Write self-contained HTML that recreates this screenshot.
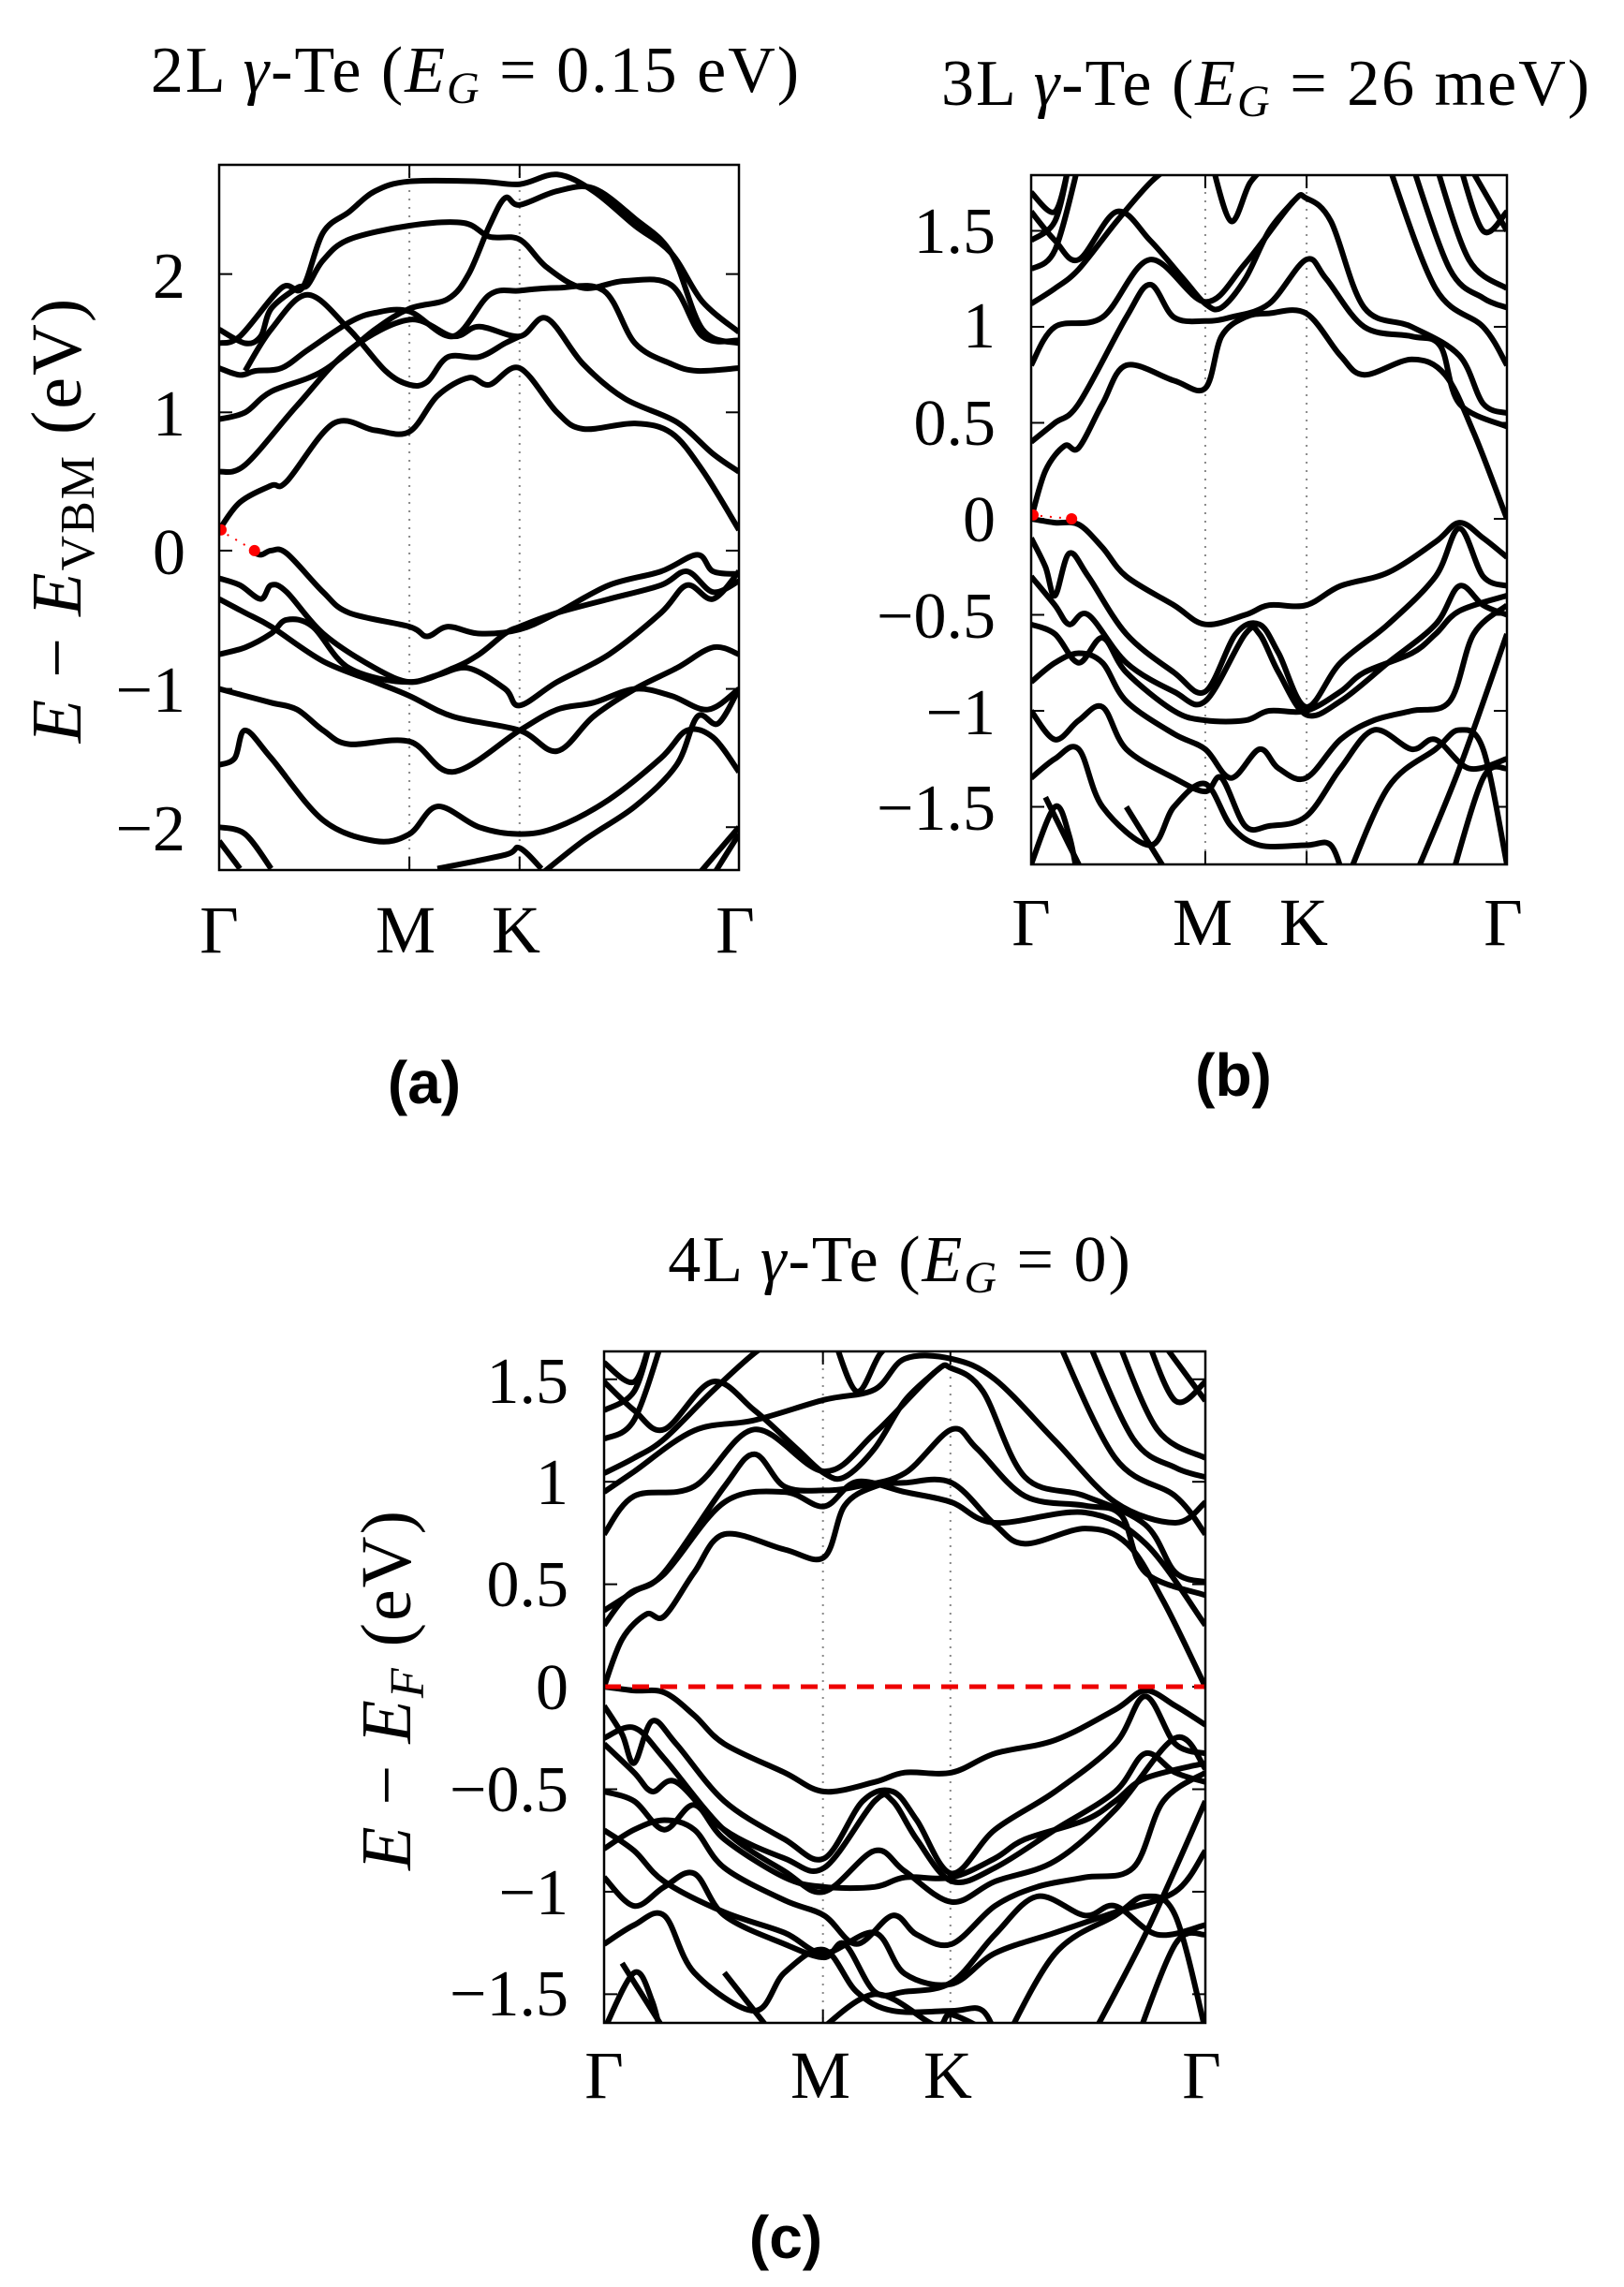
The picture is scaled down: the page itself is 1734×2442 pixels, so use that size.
<!DOCTYPE html>
<html><head><meta charset="utf-8"><style>
html,body{margin:0;padding:0;background:#fff;}
svg{display:block}
text{font-family:"Liberation Serif",serif;fill:#000}
.sub{font-family:"Liberation Sans","DejaVu Sans",sans-serif;font-weight:bold}
</style></head><body>
<svg id="s" width="1734" height="2442" viewBox="0 0 1734 2442" xmlns="http://www.w3.org/2000/svg">
<defs>
<clipPath id="ca"><rect x="234" y="176" width="555" height="753"/></clipPath>
<clipPath id="cb"><rect x="1101" y="187" width="508" height="736"/></clipPath>
<clipPath id="cc"><rect x="645" y="1443" width="642" height="717"/></clipPath>
</defs>
<!-- titles -->
<text x="508" y="98" font-size="70" text-anchor="middle" letter-spacing="2">2L <tspan font-style="italic">γ</tspan>-Te (<tspan font-style="italic">E</tspan><tspan font-style="italic" font-size="48" dy="12">G</tspan><tspan dy="-12"> = 0.15 eV)</tspan></text>
<text x="1352" y="112" font-size="70" text-anchor="middle" letter-spacing="2">3L <tspan font-style="italic">γ</tspan>-Te (<tspan font-style="italic">E</tspan><tspan font-style="italic" font-size="48" dy="12">G</tspan><tspan dy="-12"> = 26 meV)</tspan></text>
<text x="961" y="1368" font-size="70" text-anchor="middle" letter-spacing="2">4L <tspan font-style="italic">γ</tspan>-Te (<tspan font-style="italic">E</tspan><tspan font-style="italic" font-size="48" dy="12">G</tspan><tspan dy="-12"> = 0)</tspan></text>
<!-- y labels -->
<text transform="translate(86,555) rotate(-90)" font-size="76" text-anchor="middle" letter-spacing="2"><tspan font-style="italic">E</tspan> − <tspan font-style="italic">E</tspan><tspan font-size="52" dy="14">VBM</tspan><tspan dy="-14"> (eV)</tspan></text>
<text transform="translate(438,1804) rotate(-90)" font-size="76" text-anchor="middle" letter-spacing="2"><tspan font-style="italic">E</tspan> − <tspan font-style="italic">E</tspan><tspan font-style="italic" font-size="52" dy="14">F</tspan><tspan dy="-14"> (eV)</tspan></text>
<!-- sub labels -->
<text class="sub" x="453" y="1178" font-size="64" text-anchor="middle">(a)</text>
<text class="sub" x="1317" y="1170" font-size="64" text-anchor="middle">(b)</text>
<text class="sub" x="839" y="2411" font-size="64" text-anchor="middle">(c)</text>
<g id="ga"></g><g id="gb"></g><g id="gc"></g>
<!-- tick labels -->
<g font-size="70" text-anchor="end">
<text x="198" y="318">2</text><text x="198" y="465">1</text><text x="198" y="613">0</text><text x="198" y="760">−1</text><text x="198" y="908">−2</text>
<text x="1063" y="270">1.5</text><text x="1063" y="371">1</text><text x="1063" y="475">0.5</text><text x="1063" y="578">0</text><text x="1063" y="681">−0.5</text><text x="1063" y="784">−1</text><text x="1063" y="886">−1.5</text>
<text x="607" y="1498">1.5</text><text x="607" y="1606">1</text><text x="607" y="1715">0.5</text><text x="607" y="1825">0</text><text x="607" y="1934">−0.5</text><text x="607" y="2044">−1</text><text x="607" y="2152">−1.5</text>
</g>
<g font-size="72" text-anchor="middle">
<text x="234" y="1017">Γ</text><text x="433" y="1017">M</text><text x="551" y="1017">K</text><text x="785" y="1017">Γ</text>
<text x="1101" y="1009">Γ</text><text x="1284" y="1009">M</text><text x="1392" y="1009">K</text><text x="1605" y="1009">Γ</text>
<text x="645" y="2240">Γ</text><text x="876" y="2240">M</text><text x="1012" y="2240">K</text><text x="1283" y="2240">Γ</text>
</g>
</svg>
<script>
function cr(pts){var d="M"+pts[0][0]+","+pts[0][1];for(var i=0;i<pts.length-1;i++){var p0=pts[i-1]||pts[i],p1=pts[i],p2=pts[i+1],p3=pts[i+2]||p2;
var c1x=p1[0]+(p2[0]-p0[0])/6,c1y=p1[1]+(p2[1]-p0[1])/6,c2x=p2[0]-(p3[0]-p1[0])/6,c2y=p2[1]-(p3[1]-p1[1])/6;
d+=" C"+c1x.toFixed(1)+","+c1y.toFixed(1)+" "+c2x.toFixed(1)+","+c2y.toFixed(1)+" "+p2[0].toFixed(1)+","+p2[1].toFixed(1);}return d;}
var NS="http://www.w3.org/2000/svg";
function el(g,t,a){var e=document.createElementNS(NS,t);for(var k in a)e.setAttribute(k,a[k]);g.appendChild(e);return e;}
function panel(id,clip,x0,x1,y0,y1,emax,emin,M,K,ticks,bands,red){
var g=document.getElementById(id);var W=x1-x0,H=y1-y0;
function X(f){return x0+f*W}function Y(e){return y0+(emax-e)/(emax-emin)*H}
[M,K].forEach(function(f){el(g,"line",{x1:X(f),x2:X(f),y1:y0,y2:y1,stroke:"#888","stroke-width":2,"stroke-dasharray":"2,7"});
el(g,"line",{x1:X(f),x2:X(f),y1:y0,y2:y0+14,stroke:"#000","stroke-width":2});el(g,"line",{x1:X(f),x2:X(f),y1:y1,y2:y1-14,stroke:"#000","stroke-width":2});});
ticks.forEach(function(t){el(g,"line",{x1:x0,x2:x0+14,y1:Y(t),y2:Y(t),stroke:"#000","stroke-width":2});el(g,"line",{x1:x1,x2:x1-14,y1:Y(t),y2:Y(t),stroke:"#000","stroke-width":2});});
var cg=el(g,"g",{"clip-path":"url(#"+clip+")"});
bands.forEach(function(b){el(cg,"path",{d:cr(b.map(function(p){return[X(p[0]),Y(p[1])]})),fill:"none",stroke:"#000","stroke-width":6,"stroke-linejoin":"round"});});
if(red){red(cg,X,Y);}
el(g,"rect",{x:x0,y:y0,width:W,height:H,fill:"none",stroke:"#000","stroke-width":2.5});
}
var A=[
[[0,.15],[.04,.35],[.1,.47],[.13,.5],[.22,.92],[.3,.87],[.366,.86],[.42,1.12],[.48,1.25],[.52,1.2],[.578,1.32],[.65,1.0],[.7,.88],[.8,.92],[.87,.85],[.93,.58],[1,.15]],
[[0,.57],[.05,.62],[.15,1.05],[.25,1.45],[.366,1.67],[.45,1.55],[.5,1.62],[.578,1.55],[.63,1.68],[.7,1.35],[.78,1.1],[.88,.93],[.95,.7],[1,.57]],
[[0,.95],[.05,1.0],[.1,1.15],[.2,1.3],[.3,1.6],[.366,1.75],[.44,1.82],[.48,2.0],[.52,2.35],[.55,2.55],[.578,2.5],[.65,2.6],[.72,2.62],[.8,2.4],[.87,2.15],[.93,1.6],[1,1.5]],
[[0,1.32],[.04,1.27],[.07,1.3],[.12,1.32],[.17,1.45],[.25,1.65],[.3,1.72],[.366,1.73],[.45,1.55],[.52,1.85],[.578,1.88],[.65,1.9],[.74,1.88],[.8,1.5],[.87,1.35],[.92,1.3],[1,1.32]],
[[0,1.6],[.05,1.5],[.08,1.55],[.1,1.75],[.15,1.9],[.17,1.92],[.2,2.1],[.25,2.25],[.366,2.35],[.47,2.37],[.52,2.27],[.578,2.25],[.63,2.05],[.7,1.9],[.78,1.95],[.87,1.92],[.93,1.55],[1,1.52]],
[[0,1.5],[.04,1.55],[.12,1.9],[.16,1.9],[.2,2.3],[.25,2.45],[.3,2.6],[.366,2.67],[.5,2.67],[.578,2.65],[.65,2.72],[.72,2.6],[.8,2.35],[.87,2.15],[.93,1.8],[1,1.58]],
[[.05,1.3],[.1,1.6],[.17,1.85],[.25,1.6],[.32,1.3],[.366,1.2],[.4,1.22],[.44,1.4],[.5,1.4],[.55,1.5],[.578,1.55]],
[[.06,0],[.08,-.03],[.1,0],[.13,-.02],[.2,-.3],[.25,-.45],[.366,-.55],[.4,-.62],[.44,-.55],[.5,-.6],[.578,-.57],[.65,-.45],[.75,-.25],[.85,-.15],[.92,-.03],[.95,-.15],[1,-.17]],
[[0,-.2],[.04,-.25],[.08,-.35],[.1,-.25],[.13,-.3],[.2,-.6],[.3,-.85],[.366,-.95],[.42,-.9],[.48,-.85],[.55,-1.0],[.578,-1.12],[.65,-.95],[.75,-.75],[.85,-.45],[.9,-.25],[.95,-.35],[1,-.15]],
[[0,-.35],[.05,-.45],[.1,-.55],[.2,-.8],[.3,-.95],[.366,-1.05],[.45,-1.2],[.578,-1.3],[.65,-1.45],[.72,-1.2],[.8,-1.0],[.88,-.85],[.95,-.7],[1,-.75]],
[[0,-.75],[.05,-.7],[.1,-.6],[.13,-.5],[.18,-.55],[.25,-.85],[.366,-.95],[.45,-.85],[.5,-.75],[.55,-.6],[.578,-.55],[.65,-.45],[.75,-.35],[.85,-.25],[.9,-.15],[.95,-.3],[1,-.22]],
[[0,-1.0],[.05,-1.05],[.1,-1.1],[.15,-1.15],[.2,-1.3],[.25,-1.4],[.366,-1.38],[.45,-1.6],[.578,-1.3],[.65,-1.15],[.72,-1.1],[.8,-1.0],[.87,-1.05],[.94,-1.15],[1,-1.0]],
[[0,-1.55],[.03,-1.5],[.05,-1.3],[.1,-1.5],[.2,-1.95],[.3,-2.1],[.366,-2.05],[.42,-1.85],[.5,-2.0],[.578,-2.05],[.65,-2.0],[.75,-1.8],[.85,-1.5],[.9,-1.3],[.95,-1.35],[1,-1.6]],
[[.6,-2.4],[.7,-2.1],[.8,-1.85],[.88,-1.55],[.92,-1.2],[.96,-1.25],[1,-1.0]],
[[0,-2.0],[.05,-2.05],[.1,-2.3]],[[0,-2.1],[.04,-2.3]],[[.95,-2.35],[1,-2.05]],[[.92,-2.35],[1,-2.0]],
[[.42,-2.3],[.55,-2.2],[.578,-2.15],[.62,-2.3]]];
panel("ga","ca",234,789,176,929,2.79,-2.31,.366,.578,[2,1,0,-1,-2],A,function(g,X,Y){
el(g,"line",{x1:X(0),y1:Y(.15),x2:X(.068),y2:Y(0),stroke:"red","stroke-width":2,"stroke-dasharray":"2,8"});
el(g,"circle",{cx:X(0)+2,cy:Y(.15),r:6,fill:"red"});el(g,"circle",{cx:X(.068),cy:Y(0),r:6,fill:"red"});});
var B=[
[[0,0],[.03,.25],[.07,.38],[.1,.37],[.15,.6],[.2,.8],[.3,.72],[.366,.68],[.4,.95],[.45,1.05],[.5,1.07],[.578,1.07],[.65,.85],[.7,.75],[.8,.83],[.87,.75],[.93,.45],[1,0]],
[[0,.4],[.05,.5],[.1,.6],[.2,1.05],[.25,1.22],[.3,1.05],[.366,1.03],[.42,1.05],[.5,1.12],[.578,1.35],[.62,1.25],[.7,1.0],[.8,.95],[.86,.9],[.9,.6],[1,.48]],
[[0,.8],[.05,1.0],[.15,1.05],[.25,1.35],[.366,1.13],[.45,1.33],[.55,1.65],[.578,1.67],[.63,1.55],[.7,1.1],[.8,1.0],[.9,.85],[.95,.6],[1,.55]],
[[0,1.12],[.05,1.2],[.1,1.3],[.18,1.55],[.25,1.75],[.3,1.85]],
[[0,1.6],[.05,1.45],[.1,1.35],[.18,1.6],[.25,1.45],[.32,1.25],[.366,1.12],[.4,1.1],[.45,1.25],[.5,1.5],[.55,1.65]],
[[.38,1.85],[.42,1.55],[.46,1.75],[.5,1.85]],
[[.75,1.85],[.85,1.2],[.95,1.0],[1,.8]],[[.8,1.85],[.88,1.3],[.95,1.15],[1,1.1]],[[.85,1.85],[.92,1.35],[1,1.2]],[[.9,1.85],[.95,1.5],[1,1.6]],[[.93,1.8],[1,1.5]],
[[0,1.3],[.05,1.4],[.1,1.85]],[[0,1.45],[.05,1.55],[.08,1.85]],[[0,1.7],[.05,1.6],[.08,1.85]],
[[0,0],[.05,-.02],[.1,-.03],[.15,-.15],[.2,-.3],[.3,-.45],[.366,-.55],[.45,-.5],[.5,-.45],[.578,-.45],[.65,-.35],[.75,-.28],[.85,-.12],[.9,-.02],[.95,-.1],[1,-.2]],
[[0,-.1],[.03,-.25],[.05,-.4],[.08,-.18],[.12,-.3],[.2,-.6],[.3,-.8],[.366,-.9],[.43,-.6],[.48,-.55],[.52,-.7],[.578,-.98],[.65,-.75],[.75,-.55],[.85,-.3],[.9,-.05],[.95,-.3],[1,-.35]],
[[0,-.3],[.05,-.45],[.08,-.55],[.12,-.5],[.2,-.75],[.3,-.9],[.366,-.95],[.45,-.6],[.48,-.6],[.52,-.8],[.578,-1.02],[.65,-.95],[.75,-.75],[.85,-.55],[.9,-.35],[.95,-.45],[1,-.5]],
[[0,-.55],[.05,-.6],[.1,-.75],[.15,-.62],[.2,-.8],[.3,-1.0],[.366,-1.05],[.45,-1.05],[.5,-1.0],[.578,-1.0],[.65,-.9],[.7,-.8],[.8,-.7],[.85,-.6],[.9,-.48],[1,-.4]],
[[0,-.85],[.05,-.75],[.1,-.7],[.15,-.75],[.2,-.95],[.3,-1.12],[.366,-1.2],[.42,-1.35],[.48,-1.2],[.52,-1.3],[.578,-1.35],[.65,-1.15],[.72,-1.05],[.8,-1.0],[.88,-.95],[.93,-.6],[1,-.45]],
[[0,-1.0],[.05,-1.15],[.1,-1.05],[.15,-.98],[.2,-1.2],[.3,-1.35],[.366,-1.42],[.4,-1.35],[.45,-1.6],[.5,-1.6],[.578,-1.55],[.65,-1.3],[.72,-1.1],[.8,-1.2],[.85,-1.15],[.92,-1.3],[1,-1.25]],
[[0,-1.35],[.05,-1.25],[.1,-1.2],[.15,-1.5],[.25,-1.7],[.3,-1.5],[.366,-1.38],[.42,-1.6],[.48,-1.7],[.578,-1.7],[.63,-1.7],[.66,-1.9]],
[[.03,-1.45],[.08,-1.7],[.12,-1.9]],[[0,-1.8],[.05,-1.5],[.08,-1.65],[.1,-1.9]],[[.66,-1.9],[.75,-1.4],[.85,-1.2],[.9,-1.1],[.95,-1.2],[1,-1.8]],
[[.8,-1.9],[.9,-1.3],[1,-.6]],[[.88,-1.9],[.95,-1.35],[1,-1.3]],[[.2,-1.5],[.3,-1.9]]];
panel("gb","cb",1101,1609,187,923,1.79,-1.8,.366,.579,[1.5,1,.5,0,-.5,-1,-1.5],B,function(g,X,Y){
el(g,"line",{x1:X(0),y1:Y(.02),x2:X(.085),y2:Y(0),stroke:"red","stroke-width":2,"stroke-dasharray":"2,8"});
el(g,"circle",{cx:X(0)+2,cy:Y(.02),r:6,fill:"red"});el(g,"circle",{cx:X(.085),cy:Y(0),r:6,fill:"red"});});
var C=B.map(function(b){return b.map(function(p){return[p[0],p[1]*0.93]})});
C=C.concat([
[[0,.3],[.04,.45],[.1,.55],[.2,.9],[.3,.95],[.366,.88],[.42,1.0],[.5,.95],[.578,.9],[.65,.8],[.8,.85],[.9,.7],[1,.3]],
[[0,.95],[.05,1.05],[.15,1.25],[.25,1.3],[.366,1.4],[.45,1.45],[.5,1.6],[.578,1.6],[.65,1.5],[.75,1.2],[.85,.9],[.95,.8],[1,.9]],
[[0,-.25],[.05,-.2],[.1,-.35],[.2,-.7],[.3,-.9],[.366,-1.0],[.45,-.8],[.5,-.9],[.578,-1.05],[.65,-.95],[.75,-.85],[.85,-.6],[.95,-.25],[1,-.4]],
[[0,-.7],[.05,-.8],[.1,-.95],[.2,-1.1],[.3,-1.2],[.366,-1.3],[.45,-1.2],[.5,-1.4],[.578,-1.45],[.65,-1.3],[.75,-1.2],[.85,-1.1],[.95,-1.0],[1,-.8]],
[[.35,-1.7],[.45,-1.5],[.55,-1.65],[.578,-1.6],[.65,-1.7]]]);
panel("gc","cc",645,1287,1443,2160,1.636,-1.64,.364,.576,[1.5,1,.5,0,-.5,-1,-1.5],C,function(g,X,Y){
el(g,"line",{x1:X(0),y1:Y(0),x2:X(1),y2:Y(0),stroke:"#e00","stroke-width":5,"stroke-dasharray":"18,12"});});
</script>
</body></html>
